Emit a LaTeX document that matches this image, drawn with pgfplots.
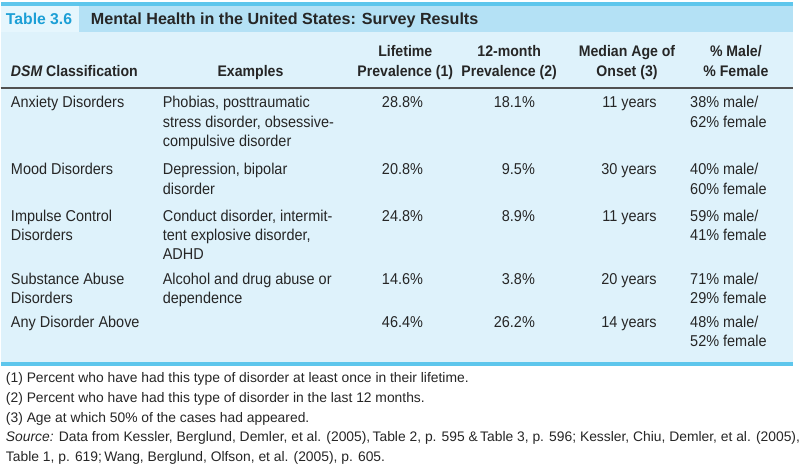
\documentclass[border=0pt]{standalone}
\usepackage{pgfplots}
\pgfplotsset{compat=1.18}
\usepackage{fontspec}
\setmainfont{Liberation Sans}
\newfontfamily\condf[FakeStretch=0.92]{Liberation Sans}
\definecolor{cyanline}{HTML}{5EC6EC}
\definecolor{titlebar}{HTML}{B4E1F5}
\definecolor{bodybg}{HTML}{DEF2FB}
\definecolor{tabbox}{HTML}{E6F6FD}
\definecolor{tabtext}{HTML}{1C9FD6}
\definecolor{txt}{HTML}{262626}
\begin{document}
\begin{tikzpicture}[
  bt/.style={font=\condf\fontsize{11.8}{14}\selectfont, text=txt, inner sep=0pt},
  ht/.style={font=\condf\bfseries\fontsize{11.5}{14}\selectfont, text=txt, inner sep=0pt},
  ft/.style={font=\fontsize{10.4}{12}\selectfont, text=txt, inner sep=0pt}]
\begin{axis}[width=600pt,height=352.5pt,scale only axis,
  xmin=0,xmax=800,ymin=0,ymax=470,y dir=reverse,hide axis,clip=false,
  nodes near coords style={bt},
  point meta=explicit symbolic]
\fill[white] (axis cs:0,0) rectangle (axis cs:800,470);
\fill[cyanline] (axis cs:0,2.5) rectangle (axis cs:793,6);
\fill[titlebar] (axis cs:0,6) rectangle (axis cs:793,32);
\fill[tabbox] (axis cs:0,6) rectangle (axis cs:78,32);
\fill[bodybg] (axis cs:0,32) rectangle (axis cs:793,362);
\draw[txt!80,line width=1.1pt] (axis cs:0,88.3) -- (axis cs:793,88.3);
\fill[cyanline] (axis cs:0,362) rectangle (axis cs:793,366);
% title
\node[anchor=base west,font=\bfseries\fontsize{11.8}{14}\selectfont,text=tabtext,inner sep=0pt] at (axis cs:5,24.5) {Table 3.6};
\node[anchor=base west,font=\bfseries\fontsize{12.1}{14}\selectfont,text=txt,inner sep=0pt] at (axis cs:90,24.5) {Mental Health in the United States: Survey Results};
% header
\node[ht,anchor=base west] at (axis cs:10,77) {\itshape DSM\upshape\ Classification};
\node[ht,anchor=base] at (axis cs:250,77) {Examples};
\node[ht,anchor=base] at (axis cs:405,57) {Lifetime};
\node[ht,anchor=base] at (axis cs:405,77) {Prevalence (1)};
\node[ht,anchor=base] at (axis cs:509,57) {12-month};
\node[ht,anchor=base] at (axis cs:509,77) {Prevalence (2)};
\node[ht,anchor=base] at (axis cs:627,57) {Median Age of};
\node[ht,anchor=base] at (axis cs:627,77) {Onset (3)};
\node[ht,anchor=base] at (axis cs:736,57) {\% Male/};
\node[ht,anchor=base] at (axis cs:736,77) {\% Female};
% classification column
\node[bt,anchor=base west] at (axis cs:10,108) {Anxiety Disorders};
\node[bt,anchor=base west] at (axis cs:10,175) {Mood Disorders};
\node[bt,anchor=base west] at (axis cs:10,222) {Impulse Control};
\node[bt,anchor=base west] at (axis cs:10,241) {Disorders};
\node[bt,anchor=base west] at (axis cs:10,285) {Substance Abuse};
\node[bt,anchor=base west] at (axis cs:10,304) {Disorders};
\node[bt,anchor=base west] at (axis cs:10,328) {Any Disorder Above};
% examples column
\node[bt,anchor=base west] at (axis cs:162,108) {Phobias, posttraumatic};
\node[bt,anchor=base west] at (axis cs:162,127.5) {stress disorder, obsessive-};
\node[bt,anchor=base west] at (axis cs:162,147) {compulsive disorder};
\node[bt,anchor=base west] at (axis cs:162,175) {Depression, bipolar};
\node[bt,anchor=base west] at (axis cs:162,194.5) {disorder};
\node[bt,anchor=base west] at (axis cs:162,222) {Conduct disorder, intermit-};
\node[bt,anchor=base west] at (axis cs:162,241) {tent explosive disorder,};
\node[bt,anchor=base west] at (axis cs:162,260) {ADHD};
\node[bt,anchor=base west] at (axis cs:162,285) {Alcohol and drug abuse or};
\node[bt,anchor=base west] at (axis cs:162,304) {dependence};
% lifetime prevalence (%)
\addplot[only marks,mark=none,nodes near coords,nodes near coords align={anchor=base east}]
  coordinates {(423,108)[28.8\%] (423,175)[20.8\%] (423,222)[24.8\%] (423,285)[14.6\%] (423,328)[46.4\%]};
% 12-month prevalence (%)
\addplot[only marks,mark=none,nodes near coords,nodes near coords align={anchor=base east}]
  coordinates {(535,108)[18.1\%] (535,175)[9.5\%] (535,222)[8.9\%] (535,285)[3.8\%] (535,328)[26.2\%]};
% median age of onset (years)
\addplot[only marks,mark=none,nodes near coords,nodes near coords align={anchor=base east}]
  coordinates {(657,108)[11 years] (657,175)[30 years] (657,222)[11 years] (657,285)[20 years] (657,328)[14 years]};
% % male
\addplot[only marks,mark=none,nodes near coords,nodes near coords align={anchor=base west}]
  coordinates {(690,108)[38\% male/] (690,175)[40\% male/] (690,222)[59\% male/] (690,285)[71\% male/] (690,328)[48\% male/]};
% % female
\addplot[only marks,mark=none,nodes near coords,nodes near coords align={anchor=base west}]
  coordinates {(690,127.5)[62\% female] (690,194.5)[60\% female] (690,241)[41\% female] (690,304)[29\% female] (690,347)[52\% female]};
% footnotes
\node[ft,anchor=base west] at (axis cs:5,383) {(1) Percent who have had this type of disorder at least once in their lifetime.};
\node[ft,anchor=base west] at (axis cs:5,403) {(2) Percent who have had this type of disorder in the last 12 months.};
\node[ft,anchor=base west] at (axis cs:5,423) {(3) Age at which 50\% of the cases had appeared.};
\node[ft,anchor=base west] at (axis cs:5,442) {\textit{Source:} Data from Kessler, Berglund, Demler, et al. (2005),\,Table 2, p. 595 \&\,Table 3, p. 596; Kessler, Chiu, Demler, et al. (2005),};
\node[ft,anchor=base west] at (axis cs:5,462) {Table 1, p. 619;\,Wang, Berglund, Olfson, et al. (2005), p. 605.};
\end{axis}
\end{tikzpicture}
\end{document}
